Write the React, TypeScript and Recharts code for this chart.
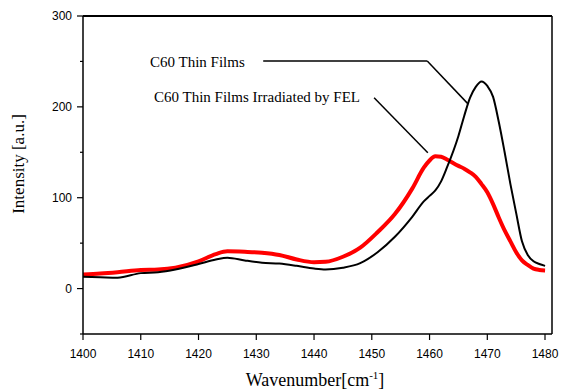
import React from 'react';
import { LineChart, Line, XAxis, YAxis, ReferenceLine } from 'recharts';

// wavenumber (cm-1)
const wavenumbers = [
  1400, 1403, 1406, 1410, 1413, 1416, 1420, 1423, 1425, 1428, 1431, 1434, 1437, 1440,
  1442, 1445, 1448, 1451, 1454, 1457, 1459, 1460, 1461, 1462, 1463, 1465, 1466, 1467, 1468, 1469,
  1470, 1471, 1472, 1473, 1474, 1475, 1476, 1477, 1478, 1479, 1480,
];

// C60 Thin Films
const pristine = [
  13, 12.5, 12, 17, 18, 21, 27, 32, 34, 31, 28.5, 27.5, 25, 22,
  21, 23, 28, 40, 57, 79, 96, 102, 108, 118, 133, 168, 190, 210, 222, 228,
  223, 211, 183, 150, 115, 83, 52, 37, 30, 27, 25,
];

// C60 Thin Films Irradiated by FEL
const irradiated = [
  15.5, 16.5, 18, 20.5, 21, 23, 30, 38, 41, 40.5, 39.5, 37, 32, 29,
  29.5, 35, 45, 62, 82, 110, 133, 141, 145.5, 145, 142, 135, 132, 128, 123, 115,
  106, 93, 78, 64, 52, 40, 31, 26, 22, 20.5, 20,
];

const xTicks = [1400, 1405, 1410, 1415, 1420, 1425, 1430, 1435, 1440, 1445, 1450, 1455, 1460, 1465, 1470, 1475, 1480];
const yTicks = [-50, 0, 50, 100, 150, 200, 250, 300];

const X_MAX = 1481.2;

const data = wavenumbers.map((w, i) => ({ w, a: pristine[i], b: irradiated[i] }));

const tickFont = '"Liberation Sans", Arial, sans-serif';
const serif = '"Liberation Serif", "Times New Roman", serif';

const XTick = (props: any) => {
  const { x, y, payload } = props;
  const major = payload.value % 10 === 0;
  return (
    <g>
      <line x1={x} y1={y} x2={x} y2={y + (major ? 6 : 3)} stroke="#000" strokeWidth={1.2} />
      {major && (
        <text x={x} y={y + 24} textAnchor="middle" fontSize={12} fontFamily={tickFont} fill="#000">
          {payload.value}
        </text>
      )}
    </g>
  );
};

const YTick = (props: any) => {
  const { x, y, payload } = props;
  const major = payload.value % 100 === 0;
  return (
    <g>
      <line x1={x} y1={y} x2={x - (major ? 6 : 3)} y2={y} stroke="#000" strokeWidth={1.2} />
      {major && (
        <text x={x - 11} y={y + 4} textAnchor="end" fontSize={12} fontFamily={tickFont} fill="#000">
          {payload.value}
        </text>
      )}
    </g>
  );
};

export default function App() {
  return (
    <div style={{ position: 'absolute', left: 0, top: 0, width: 561, height: 390, background: '#fff' }}>
      <LineChart width={561} height={390} data={data} margin={{ top: 16, right: 9, left: 23, bottom: 26 }}>
        <XAxis
          dataKey="w"
          type="number"
          domain={[1400, X_MAX]}
          ticks={xTicks}
          allowDataOverflow
          height={30}
          tickSize={0}
          tickMargin={0}
          tickLine={false}
          tick={<XTick />}
          axisLine={{ stroke: '#000', strokeWidth: 1.5 }}
        />
        <YAxis
          type="number"
          domain={[-50, 300]}
          ticks={yTicks}
          allowDataOverflow
          width={60}
          tickSize={0}
          tickMargin={0}
          tickLine={false}
          tick={<YTick />}
          axisLine={{ stroke: '#000', strokeWidth: 1.5 }}
        />
        <ReferenceLine y={300} stroke="#000" strokeWidth={2} />
        <ReferenceLine x={X_MAX} stroke="#000" strokeWidth={1.5} />
        <ReferenceLine
          segment={[{ x: 1431.2, y: 250.5 }, { x: 1459.6, y: 250.5 }]}
          stroke="#000"
          strokeWidth={1.5}
        />
        <ReferenceLine
          segment={[{ x: 1459.6, y: 250.5 }, { x: 1466.7, y: 203 }]}
          stroke="#000"
          strokeWidth={1.5}
        />
        <ReferenceLine
          segment={[{ x: 1450.4, y: 210 }, { x: 1459.7, y: 149.5 }]}
          stroke="#000"
          strokeWidth={1.5}
        />
        <Line type="monotone" dataKey="b" stroke="#ff0000" strokeWidth={4} dot={false} isAnimationActive={false} />
        <Line type="monotone" dataKey="a" stroke="#000" strokeWidth={2} dot={false} isAnimationActive={false} />
      </LineChart>
      <svg width={561} height={390} style={{ position: 'absolute', left: 0, top: 0, pointerEvents: 'none' }}>
        <text x={150} y={67} fontSize={15} fontFamily={serif} fill="#000">C60 Thin Films</text>
        <text x={154} y={102} fontSize={15} fontFamily={serif} fill="#000">C60 Thin Films Irradiated by FEL</text>
        <text
          x={24}
          y={164}
          transform="rotate(-90 24 164)"
          textAnchor="middle"
          fontSize={17}
          fontFamily={serif}
          fill="#000"
        >
          Intensity [a.u.]
        </text>
        <text x={315} y={386} textAnchor="middle" fontSize={18} fontFamily={serif} fill="#000">
          Wavenumber[cm
          <tspan fontSize={11} dy={-7}>-1</tspan>
          <tspan dy={7}>]</tspan>
        </text>
      </svg>
    </div>
  );
}
